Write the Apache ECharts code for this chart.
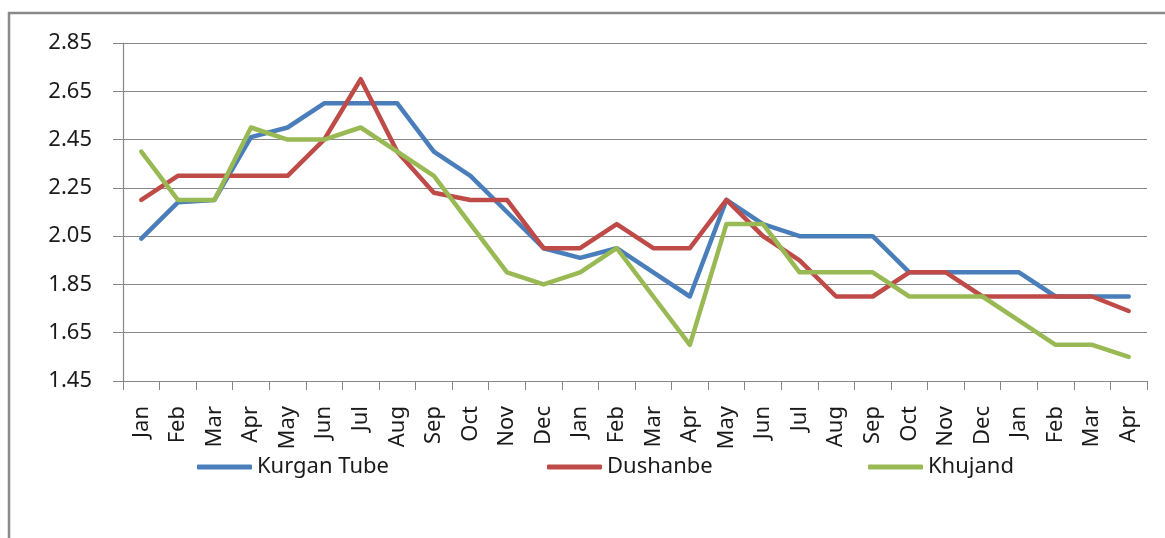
<!DOCTYPE html>
<html>
<head>
<meta charset="utf-8">
<script src="https://cdn.jsdelivr.net/npm/echarts@6/dist/echarts.min.js"></script>
<style>
  body { margin: 0; background: #fff; }
  #chart { width: 1165px; height: 538px; }
</style>
</head>
<body>
<div id="chart"></div>
<script>
// months, Jan of year 1 to Apr of year 3
const months = ["Jan", "Feb", "Mar", "Apr", "May", "Jun", "Jul", "Aug", "Sep", "Oct", "Nov", "Dec",
  "Jan", "Feb", "Mar", "Apr", "May", "Jun", "Jul", "Aug", "Sep", "Oct", "Nov", "Dec",
  "Jan", "Feb", "Mar", "Apr"];

const kurganTube = [2.04, 2.19, 2.20, 2.46, 2.50, 2.60, 2.60, 2.60, 2.40, 2.30, 2.15, 2.00,
  1.96, 2.00, 1.90, 1.80, 2.20, 2.10, 2.05, 2.05, 2.05, 1.90, 1.90, 1.90,
  1.90, 1.80, 1.80, 1.80];
const dushanbe = [2.20, 2.30, 2.30, 2.30, 2.30, 2.45, 2.70, 2.40, 2.23, 2.20, 2.20, 2.00,
  2.00, 2.10, 2.00, 2.00, 2.20, 2.05, 1.95, 1.80, 1.80, 1.90, 1.90, 1.80,
  1.80, 1.80, 1.80, 1.74];
const khujand = [2.40, 2.20, 2.20, 2.50, 2.45, 2.45, 2.50, 2.40, 2.30, 2.10, 1.90, 1.85,
  1.90, 2.00, 1.80, 1.60, 2.10, 2.10, 1.90, 1.90, 1.90, 1.80, 1.80, 1.80,
  1.70, 1.60, 1.60, 1.55];

// y axis range and step
const yMin = 1.45;
const yMax = 2.85;
const yStep = 0.2;

const font = "Noto Sans";
const gridColor = "#878787";

function lineSeries(name, data, color) {
  return {
    name: name,
    type: "line",
    data: data,
    symbol: "none",
    lineStyle: { width: 4.5, color: color, cap: "round", join: "round" },
    itemStyle: { color: color },
  };
}

function legendAt(name, left) {
  return {
    data: [name],
    left: left,
    top: 456,
    icon: "roundRect",
    itemWidth: 55,
    itemHeight: 5,
    padding: 0,
    textStyle: { fontFamily: font, fontSize: 22, color: "#1a1a1a" },
  };
}

const myChart = echarts.init(document.getElementById("chart"));

const option = {
  animation: false,
  backgroundColor: "#fff",
  // outer frame of the chart area
  graphic: [
    {
      type: "rect",
      shape: { x: 9, y: 13, width: 1200, height: 600 },
      style: { fill: null, stroke: "#8a8a8a", lineWidth: 2.5 },
      silent: true,
    },
  ],
  grid: { left: 123, right: 18, top: 43, bottom: 157 },
  legend: [
    legendAt("Kurgan Tube", 197),
    legendAt("Dushanbe", 547),
    legendAt("Khujand", 868),
  ],
  xAxis: {
    type: "category",
    data: months,
    boundaryGap: true,
    axisLine: { lineStyle: { color: gridColor, width: 1.2 } },
    axisTick: { show: true, length: 9, inside: false, lineStyle: { color: gridColor } },
    axisLabel: {
      rotate: 90,
      interval: 0,
      margin: 25,
      fontFamily: font,
      fontSize: 22,
      color: "#1a1a1a",
    },
  },
  yAxis: {
    type: "value",
    min: yMin,
    max: yMax,
    interval: yStep,
    axisLine: { show: true, lineStyle: { color: gridColor, width: 1.2 } },
    axisTick: { show: true, length: 10, lineStyle: { color: gridColor } },
    splitLine: { lineStyle: { color: gridColor, width: 1.2 } },
    axisLabel: {
      margin: 31,
      fontFamily: font,
      fontSize: 22,
      color: "#1a1a1a",
      formatter: (v) => v.toFixed(2),
    },
  },
  series: [
    lineSeries("Kurgan Tube", kurganTube, "#4a7ebb"),
    lineSeries("Dushanbe", dushanbe, "#be4b48"),
    lineSeries("Khujand", khujand, "#98b954"),
  ],
};

myChart.setOption(option);
</script>
</body>
</html>
